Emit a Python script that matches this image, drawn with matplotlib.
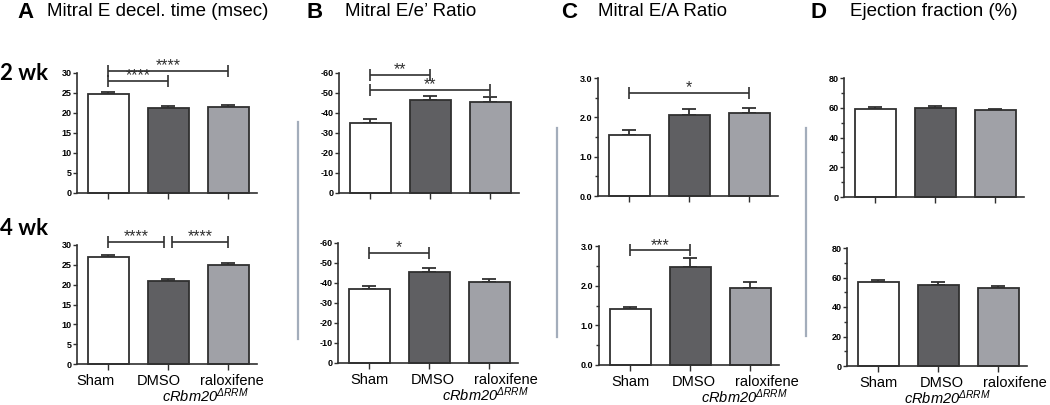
import matplotlib
matplotlib.use("Agg")
import matplotlib.pyplot as plt
from matplotlib.transforms import ScaledTranslation
from matplotlib.ticker import MultipleLocator

plt.rcParams['font.family'] = ['Liberation Sans', 'DejaVu Sans']
plt.rcParams['mathtext.fontset'] = 'custom'
plt.rcParams['mathtext.it'] = 'Liberation Sans:italic'
plt.rcParams['mathtext.sf'] = 'Liberation Sans:italic'
plt.rcParams['mathtext.rm'] = 'Liberation Sans'

W, H = 1050, 405
fig = plt.figure(figsize=(W / 100, H / 100), dpi=100)

groups = ["Sham", "DMSO", "raloxifene"]
bar_colors = ["#ffffff", "#5f5f62", "#a0a1a7"]
edge = "#303030"

# data: means and SEM (upper error only)
A2_mean = [24.8, 21.2, 21.6]
A2_err = [0.5, 0.45, 0.4]
A4_mean = [26.9, 21.0, 25.0]
A4_err = [0.5, 0.5, 0.45]
B2_mean = [35.0, 46.5, 45.7]
B2_err = [1.8, 2.0, 2.4]
B4_mean = [37.0, 45.6, 40.3]
B4_err = [1.7, 2.1, 1.5]
C2_mean = [1.56, 2.05, 2.11]
C2_err = [0.11, 0.17, 0.14]
C4_mean = [1.41, 2.48, 1.93]
C4_err = [0.05, 0.23, 0.17]
D2_mean = [59.0, 59.8, 58.2]
D2_err = [1.2, 1.6, 1.1]
D4_mean = [57.2, 54.9, 52.8]
D4_err = [1.3, 1.8, 1.3]

# y-axis ticks and labels
A_ticks = [0, 5, 10, 15, 20, 25, 30]
A_labels = ["0", "5", "10", "15", "20", "25", "30"]
B_ticks = [0, 10, 20, 30, 40, 50, 60]
B_labels = ["0", "-10", "-20", "-30", "-40", "-50", "-60"]
C_ticks = [0, 1, 2, 3]
C_labels = ["0.0", "1.0", "2.0", "3.0"]
D_ticks = [0, 20, 40, 60, 80]
D_labels = ["0", "20", "40", "60", "80"]

# significance brackets: (x_start, x_end, y, stars)
A2_sig = [(0, 2, 30.6, "****"), (0, 1, 28.0, "****")]
A4_sig = [(0, 0.93, 30.8, "****"), (1.07, 2, 30.8, "****")]
B2_sig = [(0, 1, 59.0, "**"), (0, 2, 51.5, "**")]
B4_sig = [(0, 1, 55.0, "*")]
C2_sig = [(0, 2, 2.63, "*")]
C4_sig = [(0, 1, 2.89, "***")]
D2_sig = []
D4_sig = []

genotype = r"$\mathsf{cRbm20}^{\mathsf{\Delta RRM}}$"

panels = [
    # left px, top px (ymax), bottom px (0), means, errs, ymax, ticks, labels, minor, sig,
    # tick-label shift px, genotype label centre px
    (77, 73, 193, A2_mean, A2_err, 30, A_ticks, A_labels, None, A2_sig, -13, 205),
    (77, 245, 364, A4_mean, A4_err, 30, A_ticks, A_labels, None, A4_sig, -13, 205),
    (339, 73, 193, B2_mean, B2_err, 60, B_ticks, B_labels, None, B2_sig, 0, 485),
    (338, 243, 363, B4_mean, B4_err, 60, B_ticks, B_labels, None, B4_sig, 0, 485),
    (598, 78, 196, C2_mean, C2_err, 3, C_ticks, C_labels, 0.5, C2_sig, 0, 744),
    (599, 246, 365, C4_mean, C4_err, 3, C_ticks, C_labels, 0.5, C4_sig, 0, 744),
    (844, 78, 197, D2_mean, D2_err, 80, D_ticks, D_labels, 10, D2_sig, 0, 947),
    (847, 248, 366, D4_mean, D4_err, 80, D_ticks, D_labels, 10, D4_sig, 0, 947),
]

xlo, xhi = -0.52, 2.48
px_per_unit = 60
label_offsets = [0, 4, 17]

for i, (lpx, tpx, bpx, means, errs, ymax, yt, yl, minor, sig, shift, gx) in enumerate(panels):
    wpx = (xhi - xlo) * px_per_unit
    ax = fig.add_axes([lpx / W, 1 - bpx / H, wpx / W, (bpx - tpx) / H])
    xs = list(range(len(groups)))
    ax.bar(xs, means, width=0.68, color=bar_colors, edgecolor=edge, linewidth=1.3, zorder=2)
    ax.errorbar(xs, means, yerr=[[0] * len(errs), errs], fmt="none", ecolor=edge,
                elinewidth=1.3, capsize=5, capthick=1.3, zorder=1)
    ax.set_xlim(xlo, xhi)
    ax.set_ylim(0, ymax)
    ax.set_yticks(yt)
    ax.set_yticklabels(yl, fontsize=6.5, fontweight="bold")
    if minor:
        ax.yaxis.set_minor_locator(MultipleLocator(minor))
        ax.tick_params(axis="y", which="minor", length=2, width=1, color=edge)
    for s in ["top", "right"]:
        ax.spines[s].set_visible(False)
    for s in ["left", "bottom"]:
        ax.spines[s].set_color(edge)
        ax.spines[s].set_linewidth(1.2)
    ax.tick_params(axis="y", which="major", length=3, width=1, color=edge, pad=1)
    ax.tick_params(axis="x", length=4, width=1, color=edge, pad=3)
    ax.set_xticks(xs)
    bottom_row = (i % 2 == 1)
    if bottom_row:
        ax.set_xticklabels(groups, fontsize=10.5)
        for lab, off in zip(ax.get_xticklabels(), label_offsets):
            lab.set_transform(lab.get_transform() +
                              ScaledTranslation((off + shift) / 100, 0, fig.dpi_scale_trans))
        fig.text(gx / W, 1 - (bpx + 22) / H, genotype, ha="center", va="top", fontsize=10.5)
    else:
        ax.set_xticklabels([])
    for (x1, x2, y, stars) in sig:
        ax.errorbar([(x1 + x2) / 2], [y], xerr=[(x2 - x1) / 2], fmt="none", ecolor=edge,
                    elinewidth=1.2, capsize=4, capthick=1.2)
        ax.annotate(stars, ((x1 + x2) / 2, y), xytext=(0, 0.5), textcoords="offset points",
                    ha="center", va="baseline", fontsize=11.5, color=edge,
                    annotation_clip=False)
    for art in ax.get_children():
        try:
            art.set_clip_on(False)
        except Exception:
            pass

# separator lines
for xs_, y0, y1 in [(298, 122, 339), (557, 128, 337), (806, 128, 336)]:
    fig.add_artist(plt.Line2D([xs_ / W, xs_ / W], [1 - y0 / H, 1 - y1 / H],
                              color="#a3adbb", linewidth=1.6))

# titles
titles = [
    (17, "A", 47, "Mitral E decel. time (msec)"),
    (307, "B", 345, "Mitral E/e\u2019 Ratio"),
    (561, "C", 598, "Mitral E/A Ratio"),
    (811, "D", 850, "Ejection fraction (%)"),
]
for lx, letter, tx, txt in titles:
    fig.text(lx / W, 1 - 12 / H, letter, fontsize=16, fontweight="bold", va="center", ha="left")
    fig.text(tx / W, 1 - 12 / H, txt, fontsize=13.5, va="center", ha="left")

fig.text(0 / W, 1 - 73 / H, "2 wk", fontsize=16, fontweight="bold", va="center", ha="left",
         family=["Lato", "DejaVu Sans"])
fig.text(0 / W, 1 - 228 / H, "4 wk", fontsize=16, fontweight="bold", va="center", ha="left",
         family=["Lato", "DejaVu Sans"])

fig.savefig("out.png", dpi=100)
